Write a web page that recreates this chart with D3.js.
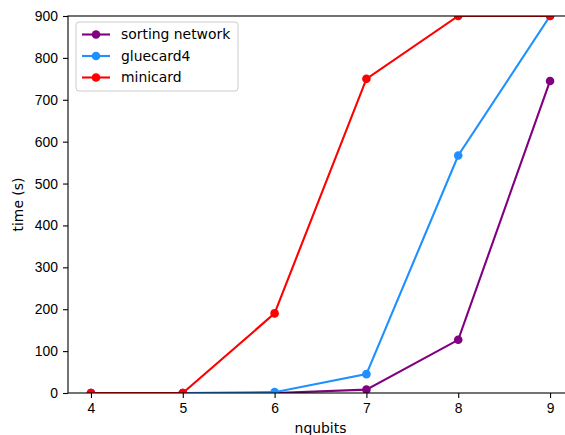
<!DOCTYPE html>
<html>
<head>
<meta charset="utf-8">
<script src="https://cdn.jsdelivr.net/npm/d3@7"></script>
<style>
  body { margin: 0; background: #fff; }
  svg { display: block; font-family: "DejaVu Sans", sans-serif; }
  .tick text { font-size: 13.9px; fill: #000; }
</style>
</head>
<body>
<div id="chart"></div>
<script>
const NQUBITS = [4, 5, 6, 7, 8, 9];
const SORTING_NETWORK = [0, 0, 0, 8, 127, 745];
const GLUECARD4 = [0, 0, 2, 45, 567, 900];
const MINICARD = [0, 0, 190, 750, 900, 900];

const SERIES = [
  { name: "sorting network", color: "purple", values: SORTING_NETWORK },
  { name: "gluecard4", color: "#1e90ff", values: GLUECARD4 },
  { name: "minicard", color: "red", values: MINICARD },
];

const Y_TICKS = [0, 100, 200, 300, 400, 500, 600, 700, 800, 900];

const width = 565;
const height = 435;
const plot = { left: 68, right: 573, top: 16, bottom: 393 };

const x = d3.scaleLinear().domain([3.75, 9.25]).range([plot.left, plot.right]);
const y = d3.scaleLinear().domain([0, 900]).range([plot.bottom, plot.top]);

const svg = d3.select("#chart")
  .append("svg")
  .attr("width", width)
  .attr("height", height);

svg.append("defs")
  .append("clipPath")
  .attr("id", "plot-clip")
  .append("rect")
  .attr("x", plot.left)
  .attr("y", plot.top)
  .attr("width", plot.right - plot.left)
  .attr("height", plot.bottom - plot.top);

const data = svg.append("g").attr("clip-path", "url(#plot-clip)");

const line = d3.line()
  .x((d) => x(d.n))
  .y((d) => y(d.v));

SERIES.forEach((s) => {
  const pts = NQUBITS.map((n, i) => ({ n, v: s.values[i] }));
  data.append("path")
    .attr("d", line(pts))
    .attr("fill", "none")
    .attr("stroke", s.color)
    .attr("stroke-width", 2.1);
  data.selectAll(null)
    .data(pts)
    .join("circle")
    .attr("cx", (d) => x(d.n))
    .attr("cy", (d) => y(d.v))
    .attr("r", 4.3)
    .attr("fill", s.color);
});

// axes
const xAxis = svg.append("g")
  .attr("transform", `translate(0,${plot.bottom})`)
  .call(d3.axisBottom(x).tickValues(NQUBITS).tickFormat(d3.format("d")).tickSizeOuter(0).tickSize(5).tickPadding(5));
const yAxis = svg.append("g")
  .attr("transform", `translate(${plot.left},0)`)
  .call(d3.axisLeft(y).tickValues(Y_TICKS).tickSizeOuter(0).tickSize(5).tickPadding(5));

[xAxis, yAxis].forEach((g) => {
  g.select(".domain").remove();
  g.selectAll(".tick line").attr("stroke", "#000").attr("stroke-width", 1.1);
});

// spines
svg.append("rect")
  .attr("x", plot.left)
  .attr("y", plot.top)
  .attr("width", plot.right - plot.left)
  .attr("height", plot.bottom - plot.top)
  .attr("fill", "none")
  .attr("stroke", "#000")
  .attr("stroke-width", 1.1);

svg.append("text")
  .attr("x", (plot.left + plot.right) / 2)
  .attr("y", 433)
  .attr("text-anchor", "middle")
  .attr("font-size", 13.9)
  .text("nqubits");

svg.append("text")
  .attr("transform", `translate(23,${(plot.top + plot.bottom) / 2}) rotate(-90)`)
  .attr("text-anchor", "middle")
  .attr("font-size", 13.9)
  .text("time (s)");

// legend
const legend = svg.append("g").attr("transform", "translate(76,22)");
legend.append("rect")
  .attr("width", 162)
  .attr("height", 69)
  .attr("rx", 3)
  .attr("fill", "#fff")
  .attr("fill-opacity", 0.8)
  .attr("stroke", "#ccc");

SERIES.forEach((s, i) => {
  const row = legend.append("g").attr("transform", `translate(0,${12.5 + i * 21.5})`);
  row.append("line")
    .attr("x1", 6).attr("x2", 34)
    .attr("stroke", s.color).attr("stroke-width", 2.1);
  row.append("circle").attr("cx", 20).attr("r", 4.3).attr("fill", s.color);
  row.append("text")
    .attr("x", 45)
    .attr("dy", "0.35em")
    .attr("font-size", 13.9)
    .text(s.name);
});
</script>
</body>
</html>
